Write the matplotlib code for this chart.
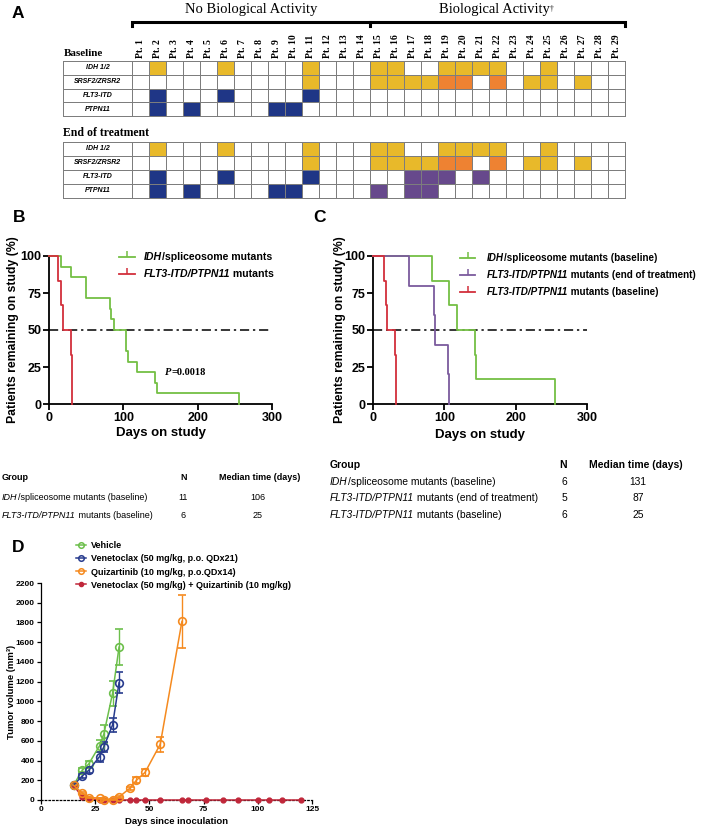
import numpy as np
import matplotlib
matplotlib.use("Agg")
from matplotlib import pyplot as plt
from matplotlib.colors import ListedColormap
from matplotlib.lines import Line2D

W, H = 709, 827
SANS = "Liberation Sans"
SERIF = "Liberation Serif"
plt.rcParams["font.family"] = [SANS, "DejaVu Sans"]

# ---------------- panel A: mutation status per patient
patients = [f"Pt. {i}" for i in range(1, 30)]
n_no_activity = 14
genes = ["IDH 1/2", "SRSF2/ZRSR2", "FLT3-ITD", "PTPN11"]
idh_pts = [2, 6, 11, 15, 16, 19, 20, 21, 22, 25]
srsf2_pts = [11, 15, 16, 17, 18, 24, 25, 27]
srsf2_orange_pts = [19, 20, 22]
flt3_base_pts = [2, 6, 11]
ptpn11_base_pts = [2, 4, 9, 10]
flt3_new_pts = [17, 18, 19, 21]
ptpn11_new_pts = [15, 17, 18]

# ---------------- panel B: Kaplan-Meier steps (day of drop, % after drop)
b_idh_days = [16, 30, 50, 50, 82, 84, 87, 103, 104, 106, 118, 143, 145, 256]
b_idh_pct = [92.9, 85.7, 78.6, 71.4, 64.3, 57.1, 50.0, 42.9, 35.7, 28.6, 21.4, 14.3, 7.1, 0.0]
b_flt3_days = [12, 16, 19, 30, 31, 31]
b_flt3_pct = [83.3, 66.7, 50.0, 33.3, 16.7, 0.0]

# ---------------- panel C
c_idh_days = [83, 106, 118, 143, 145, 255]
c_idh_pct = [83.3, 66.7, 50.0, 33.3, 16.7, 0.0]
c_eot_days = [50, 86, 87, 105, 107]
c_eot_pct = [80.0, 60.0, 40.0, 20.0, 0.0]
c_flt3_days = [16, 18, 20, 31, 32, 32]
c_flt3_pct = [83.3, 66.7, 50.0, 33.3, 16.7, 0.0]

# ---------------- tables
tab_b_groups = [[("IDH", True), ("/spliceosome mutants (baseline)", False)],
                [("FLT3-ITD/PTPN11", True), (" mutants (baseline)", False)]]
tab_b_n = [11, 6]
tab_b_median = [106, 25]
tab_c_groups = [[("IDH", True), ("/spliceosome mutants (baseline)", False)],
                [("FLT3-ITD/PTPN11", True), (" mutants (end of treatment)", False)],
                [("FLT3-ITD/PTPN11", True), (" mutants (baseline)", False)]]
tab_c_n = [6, 5, 6]
tab_c_median = [131, 87, 25]

# ---------------- panel D: tumor volume (mm3)
d_days = [15, 19, 22, 27, 29, 33, 36]
vehicle = [150, 300, 365, 550, 670, 1080, 1550]
vehicle_err = [0, 20, 30, 60, 90, 130, 180]
venetoclax = [150, 243, 300, 440, 540, 760, 1190]
venetoclax_err = [0, 17, 25, 50, 50, 70, 110]
quiz_days = [15, 19, 22, 27, 29, 33, 36, 41, 44, 48, 55, 65]
quizartinib = [150, 70, 25, 20, 5, 5, 30, 120, 200, 280, 565, 1810]
quizartinib_err = [0, 10, 5, 5, 3, 3, 10, 15, 30, 35, 75, 265]
combo_days = [15, 19, 22, 27, 29, 33, 36, 41, 44, 48, 55, 65, 68, 76, 84, 91, 100, 105, 111, 120]
combo = [150, 30, 10, 5, 3, 0, 0, 0, 0, 0, 0, 0, 0, 0, 0, 0, 0, 0, 0, 0]
d_labels = ["Vehicle", "Venetoclax (50 mg/kg, p.o. QDx21)", "Quizartinib (10 mg/kg, p.o.QDx14)",
            "Venetoclax (50 mg/kg) + Quizartinib (10 mg/kg)"]

GREEN, RED, PURPLE = "#74BF44", "#D22F3B", "#7B5A9D"
D_COLORS = ["#6CBF4B", "#283C8E", "#F58A1F", "#C0273A"]
GRID = "#7d7d7d"
cell_cmap = ListedColormap(["white", "#E8B92A", "#EE8232", "#1F3686", "#67498C"])

fig = plt.figure(figsize=(W / 100, H / 100), dpi=100)


def px_axes(x0, y0, x1, y1):
    return fig.add_axes([x0 / W, 1 - y1 / H, (x1 - x0) / W, (y1 - y0) / H])


def mutation_matrix(eot):
    m = np.zeros((len(genes), len(patients)), dtype=int)
    for p in idh_pts:
        m[0, p - 1] = 1
    for p in srsf2_pts:
        m[1, p - 1] = 1
    for p in srsf2_orange_pts:
        m[1, p - 1] = 2
    for p in flt3_base_pts:
        m[2, p - 1] = 3
    for p in ptpn11_base_pts:
        m[3, p - 1] = 3
    if eot:
        for p in flt3_new_pts:
            m[2, p - 1] = 4
        for p in ptpn11_new_pts:
            m[3, p - 1] = 4
    return m


def draw_grid(y0, y1, eot):
    lab = px_axes(63, y0, 132, y1)
    mesh = lab.pcolormesh(np.zeros((len(genes), 1)), cmap=ListedColormap(["white"]),
                          edgecolors=GRID, linewidth=0.6)
    mesh.set_clip_on(False)
    lab.set_xlim(0, 1)
    lab.set_ylim(len(genes), 0)
    lab.axis("off")
    for i, g in enumerate(genes):
        lab.text(0.5, i + 0.5, g, ha="center", va="center", fontsize=5,
                 style="italic", fontweight="bold")
    ax = px_axes(132, y0, 625, y1)
    mesh = ax.pcolormesh(mutation_matrix(eot), cmap=cell_cmap, vmin=-0.5, vmax=4.5,
                         edgecolors=GRID, linewidth=0.6)
    mesh.set_clip_on(False)
    ax.set_xlim(0, len(patients))
    ax.set_ylim(len(genes), 0)
    for s in ax.spines.values():
        s.set_visible(False)
    ax.set_yticks([])
    ax.set_xticks(np.arange(len(patients)) + 0.5)
    ax.xaxis.tick_top()
    ax.tick_params(length=0, pad=2)
    if eot:
        ax.set_xticklabels([])
    else:
        ax.set_xticklabels(patients, rotation=90, fontsize=7, family=SERIF, fontweight="bold")
    return ax


ax1 = draw_grid(61, 116, False)
draw_grid(142, 198, True)

# bracket + group headers
tr = ax1.get_xaxis_transform()
hpx = 116 - 61
br = 1 + (61 - 22) / hpx
dn = 4 / hpx
npt = len(patients)
ax1.plot([0, 0, npt, npt], [br - dn, br, br, br - dn], color="k", lw=2.2,
         transform=tr, clip_on=False, solid_joinstyle="miter")
ax1.plot([n_no_activity, n_no_activity], [br, br - dn], color="k", lw=2.2,
         transform=tr, clip_on=False)
ax1.text(n_no_activity / 2, 1 + 51 / hpx, "No Biological Activity", transform=tr,
         ha="center", va="center", fontsize=10.5, family=SERIF)
hdr = ax1.text((n_no_activity + npt) / 2 - 0.2, 1 + 51 / hpx, "Biological Activity", transform=tr,
               ha="center", va="center", fontsize=10.5, family=SERIF)
ax1.annotate("\u2020", xy=(1, 0.9), xycoords=hdr, ha="left", va="top", fontsize=5.5, family=SERIF)

# ---------------- panels B and C


def km(ax, days, pct, color):
    ax.step([0] + days, [100] + pct, where="post", color=color, lw=1.3, clip_on=False, zorder=3)


def style_km(ax, ylab_x, xlab_y):
    ax.set_facecolor("none")
    ax.set_xlim(0, 300)
    ax.set_ylim(0, 100)
    ax.set_xticks([0, 100, 200, 300])
    ax.set_yticks([0, 25, 50, 75, 100])
    for s in ["top", "right"]:
        ax.spines[s].set_visible(False)
    for s in ["left", "bottom"]:
        ax.spines[s].set_linewidth(1.3)
    ax.tick_params(width=1.3, length=4, labelsize=9, pad=1.5)
    plt.setp(ax.get_xticklabels() + ax.get_yticklabels(), fontweight="bold")
    ax.axhline(50, color="k", lw=1.1, ls=(0, (6, 2.5, 1.5, 2.5)), zorder=2)
    ax.set_xlabel("Days on study", fontsize=9.5, fontweight="bold")
    ax.set_ylabel("Patients remaining on study (%)", fontsize=8.8, fontweight="bold")
    ax.xaxis.label.set_va("center")
    ax.yaxis.label.set_va("center")
    ax.xaxis.set_label_coords(0.5, xlab_y)
    ax.yaxis.set_label_coords(ylab_x, 0.5)


axb = px_axes(49, 256, 272, 404)
style_km(axb, (13 - 49) / 223, -(433 - 404) / 148)
km(axb, b_idh_days, b_idh_pct, GREEN)
km(axb, b_flt3_days, b_flt3_pct, RED)
p_txt = axb.text(156, 21.6, "P", fontsize=7.5, fontweight="bold", style="italic",
                 family=SERIF, va="center")
axb.annotate("=0.0018", xy=(1, 0), xycoords=p_txt, va="bottom", fontsize=7.5,
             fontweight="bold", family=SERIF)

axc = px_axes(373, 256, 587, 404)
style_km(axc, (340 - 373) / 214, -(435 - 404) / 148)
km(axc, c_idh_days, c_idh_pct, GREEN)
km(axc, c_eot_days, c_eot_pct, PURPLE)
km(axc, c_flt3_days, c_flt3_pct, RED)

# ---------------- panel D
axd = px_axes(41, 583, 312, 800)
axd.set_facecolor("none")
axd.set_xlim(0, 125)
axd.set_ylim(0, 2200)
axd.set_xticks(range(0, 126, 25))
axd.set_yticks(range(0, 2201, 200))
for s in ["top", "right"]:
    axd.spines[s].set_visible(False)
axd.spines["left"].set_linewidth(0.9)
axd.spines["bottom"].set_linewidth(0.9)
axd.spines["bottom"].set_linestyle((0, (1.2, 1.8)))
axd.tick_params(width=0.9, length=3, labelsize=6, pad=1.5)
plt.setp(axd.get_xticklabels() + axd.get_yticklabels(), fontweight="bold")
axd.set_xlabel("Days since inoculation", fontsize=6.8, fontweight="bold")
axd.set_ylabel("Tumor volume (mm\u00b3)", fontsize=6.8, fontweight="bold")
axd.xaxis.label.set_va("center")
axd.yaxis.label.set_va("center")
axd.xaxis.set_label_coords(0.5, -(821 - 800) / 217)
axd.yaxis.set_label_coords((12 - 41) / 271, 0.5)

axd.plot(combo_days, combo, color=D_COLORS[3], lw=1.1, marker="o", ms=3.5, clip_on=False, zorder=3)
series = [(d_days, vehicle, vehicle_err), (d_days, venetoclax, venetoclax_err),
          (quiz_days, quizartinib, quizartinib_err)]
for (x, y, e), col in zip(series, D_COLORS[:3]):
    axd.errorbar(x, y, yerr=e, color=col, lw=1.1, marker="o", ms=5.5, mfc="none", mew=1.2,
                 capsize=2.8, elinewidth=1.0, capthick=1.0, clip_on=False, zorder=4)

d_handles = [Line2D([], [], color=c, lw=1.1, marker="o", ms=4, mfc="none", mew=1.1) for c in D_COLORS[:3]]
d_handles.append(Line2D([], [], color=D_COLORS[3], lw=1.1, marker="o", ms=3))
fig.legend(d_handles, d_labels, loc="center left", bbox_to_anchor=(76 / W, 1 - 565.5 / H),
           frameon=False, handlelength=1.1, handletextpad=0.6, labelspacing=0.45,
           borderpad=0, borderaxespad=0, prop={"family": SANS, "weight": "bold", "size": 6.5})

# ---------------- overlay for free text (pixel coordinates)
ov = fig.add_axes([0, 0, 1, 1])
ov.axis("off")
ov.set_xlim(0, W)
ov.set_ylim(H, 0)


def rich(x, y, parts, size, weight="normal", family=SANS):
    t = ov.text(x, y, parts[0][0], fontsize=size, fontweight=weight, family=family,
                style="italic" if parts[0][1] else "normal", va="center", ha="left")
    for s, it in parts[1:]:
        t = ov.annotate(s, xy=(1, 0), xycoords=t, va="bottom", ha="left", fontsize=size,
                        fontweight=weight, family=family, style="italic" if it else "normal")
    return t


for letter, (x, y) in zip("ABCD", [(18, 14), (19, 218), (320, 218), (18, 548)]):
    ov.text(x, y, letter, fontsize=12.5, fontweight="bold", ha="center", va="center")

ov.text(64, 53, "Baseline", fontsize=8, fontweight="bold", family=SERIF, va="center")
ov.text(63, 133, "End of treatment", fontsize=8.5, fontweight="bold", family=SERIF, va="center")

# legends of B and C
leg_b = [([("IDH", True), ("/spliceosome mutants", False)], GREEN),
         ([("FLT3-ITD/PTPN11", True), (" mutants", False)], RED)]
for (parts, col), y in zip(leg_b, [257, 274]):
    ov.plot([119, 135], [y, y], color=col, lw=1.3)
    ov.plot([127], [y], color=col, marker=2, ms=4, mew=1.1)
    rich(144, y, parts, 7.6, weight="bold")

leg_c = [([("IDH", True), ("/spliceosome mutants (baseline)", False)], GREEN),
         ([("FLT3-ITD/PTPN11", True), (" mutants (end of treatment)", False)], PURPLE),
         ([("FLT3-ITD/PTPN11", True), (" mutants (baseline)", False)], RED)]
for (parts, col), y in zip(leg_c, [258, 275, 292]):
    ov.plot([460, 475], [y, y], color=col, lw=1.3)
    ov.plot([467.5], [y], color=col, marker=2, ms=4, mew=1.1)
    rich(487, y, parts, 7.1, weight="bold")

# tables
ov.text(2, 478, "Group", fontsize=6.5, fontweight="bold", va="center")
ov.text(184, 478, "N", fontsize=6.5, fontweight="bold", va="center", ha="center")
ov.text(260, 478, "Median time (days)", fontsize=6.5, fontweight="bold", va="center", ha="center")
for parts, n, med, y in zip(tab_b_groups, tab_b_n, tab_b_median, [498, 515]):
    rich(2, y, parts, 6.5)
    ov.text(183, y, str(n), fontsize=6.5, va="center", ha="center")
    ov.text(258, y, str(med), fontsize=6.5, va="center", ha="center")

ov.text(330, 465, "Group", fontsize=7.5, fontweight="bold", va="center")
ov.text(563, 465, "N", fontsize=7.5, fontweight="bold", va="center", ha="center")
ov.text(636, 465, "Median time (days)", fontsize=7.5, fontweight="bold", va="center", ha="center")
for parts, n, med, y in zip(tab_c_groups, tab_c_n, tab_c_median, [482, 498, 515]):
    rich(330, y, parts, 7.4)
    ov.text(564, y, str(n), fontsize=7.4, va="center", ha="center")
    ov.text(638, y, str(med), fontsize=7.4, va="center", ha="center")

fig.savefig("out.png", dpi=100)
